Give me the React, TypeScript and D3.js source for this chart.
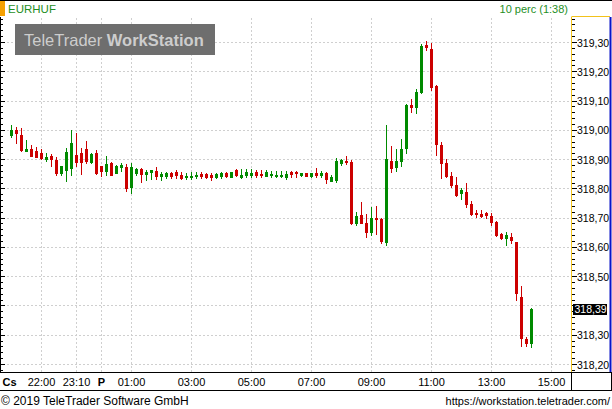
import React from "react";
import * as d3 from "d3";

const symbol = "EURHUF";
const periodLabel = "10 perc (1:38)";
const copyright = "© 2019 TeleTrader Software GmbH";
const siteUrl = "https://workstation.teletrader.com/";
const watermarkA = "TeleTrader ";
const watermarkB = "WorkStation";

// 10-minute bars, first bar at 21:00 of the previous day (minutes relative to midnight)
const firstBarMinute = -180;
const barMinutes = 10;

const opens = [
  318.984, 319.001, 318.984, 318.929, 318.936, 318.929, 318.922, 318.902, 318.912, 318.899,
  318.854, 318.864, 318.871, 318.916, 318.922, 318.936, 318.892, 318.922, 318.878, 318.861,
  318.888, 318.854, 318.875, 318.875, 318.806, 318.854, 318.868, 318.851, 318.857, 318.861,
  318.844, 318.844, 318.854, 318.857, 318.847, 318.840, 318.840, 318.844, 318.851, 318.851,
  318.847, 318.840, 318.844, 318.854, 318.840, 318.864, 318.840, 318.847, 318.847, 318.857,
  318.851, 318.844, 318.847, 318.844, 318.844, 318.840, 318.857, 318.857, 318.847, 318.854,
  318.844, 318.854, 318.847, 318.854, 318.827, 318.830, 318.888, 318.895, 318.892, 318.683,
  318.711, 318.683, 318.652, 318.700, 318.697, 318.618, 318.895, 318.875, 318.895, 318.940,
  319.086, 319.080, 319.131, 319.291, 319.278, 319.151, 318.950, 318.888, 318.844, 318.813,
  318.786, 318.789, 318.748, 318.717, 318.714, 318.717, 318.707, 318.688, 318.646, 318.632,
  318.635, 318.618, 318.430, 318.287, 318.273,
];
const highs = [
  319.018, 319.011, 319.008, 318.967, 318.950, 318.943, 318.936, 318.922, 318.919, 318.909,
  318.878, 318.940, 319.001, 318.991, 318.940, 318.963, 318.922, 318.933, 318.878, 318.912,
  318.892, 318.881, 318.888, 318.885, 318.888, 318.871, 318.871, 318.864, 318.864, 318.875,
  318.857, 318.857, 318.857, 318.864, 318.857, 318.854, 318.857, 318.857, 318.857, 318.854,
  318.854, 318.854, 318.857, 318.857, 318.857, 318.868, 318.868, 318.868, 318.868, 318.864,
  318.864, 318.864, 318.861, 318.861, 318.861, 318.861, 318.861, 318.861, 318.854, 318.854,
  318.854, 318.871, 318.861, 318.857, 318.847, 318.905, 318.902, 318.912, 318.899, 318.721,
  318.755, 318.714, 318.738, 318.741, 318.700, 319.018, 318.946, 318.936, 318.970, 319.090,
  319.107, 319.141, 319.295, 319.305, 319.298, 319.155, 318.960, 318.902, 318.857, 318.840,
  318.803, 318.820, 318.758, 318.728, 318.728, 318.721, 318.717, 318.690, 318.649, 318.652,
  318.649, 318.618, 318.468, 318.294, 318.393,
];
const lows = [
  318.977, 318.957, 318.929, 318.929, 318.912, 318.909, 318.902, 318.895, 318.878, 318.847,
  318.847, 318.827, 318.847, 318.878, 318.851, 318.888, 318.888, 318.851, 318.844, 318.847,
  318.847, 318.854, 318.861, 318.793, 318.786, 318.847, 318.823, 318.830, 318.834, 318.834,
  318.830, 318.837, 318.837, 318.837, 318.834, 318.834, 318.834, 318.837, 318.837, 318.837,
  318.830, 318.837, 318.837, 318.840, 318.840, 318.844, 318.837, 318.840, 318.840, 318.840,
  318.840, 318.844, 318.840, 318.840, 318.840, 318.834, 318.840, 318.840, 318.844, 318.844,
  318.840, 318.840, 318.840, 318.820, 318.827, 318.823, 318.881, 318.885, 318.680, 318.676,
  318.683, 318.635, 318.642, 318.646, 318.615, 318.608, 318.857, 318.861, 318.878, 318.922,
  319.063, 319.059, 319.127, 319.274, 319.138, 318.916, 318.837, 318.840, 318.806, 318.776,
  318.765, 318.738, 318.711, 318.704, 318.704, 318.700, 318.676, 318.639, 318.629, 318.608,
  318.615, 318.420, 318.263, 318.263, 318.260,
];
const closes = [
  319.001, 318.991, 318.933, 318.936, 318.912, 318.909, 318.905, 318.909, 318.902, 318.854,
  318.878, 318.926, 318.957, 318.892, 318.892, 318.895, 318.919, 318.854, 318.861, 318.885,
  318.847, 318.878, 318.881, 318.803, 318.875, 318.868, 318.851, 318.857, 318.864, 318.844,
  318.851, 318.854, 318.844, 318.847, 318.837, 318.844, 318.844, 318.847, 318.844, 318.840,
  318.840, 318.851, 318.854, 318.844, 318.857, 318.847, 318.847, 318.857, 318.854, 318.847,
  318.847, 318.857, 318.851, 318.847, 318.847, 318.851, 318.851, 318.854, 318.854, 318.844,
  318.854, 318.847, 318.854, 318.834, 318.840, 318.895, 318.899, 318.892, 318.683, 318.707,
  318.683, 318.652, 318.700, 318.697, 318.622, 318.902, 318.871, 318.895, 318.936, 319.086,
  319.080, 319.131, 319.288, 319.285, 319.148, 318.953, 318.888, 318.844, 318.813, 318.779,
  318.796, 318.748, 318.714, 318.714, 318.707, 318.711, 318.688, 318.642, 318.632, 318.642,
  318.625, 318.444, 318.290, 318.273, 318.389,
];

const yTicks = [318.2, 318.3, 318.4, 318.5, 318.6, 318.7, 318.8, 318.9, 319.0, 319.1, 319.2, 319.3];
const xTickLabels = ["Cs", "22:00", "23:10", "P", "01:00", "03:00", "05:00", "07:00", "09:00", "11:00", "13:00", "15:00"];
const xTickMinutes = [-184, -120, -50, 0, 60, 180, 300, 420, 540, 660, 780, 900];
const xTickBold = [true, false, false, true, false, false, false, false, false, false, false, false];
const xGridMinutes = [-120, -50, 0, 60, 180, 300, 420, 540, 660, 780, 900];
const lastPrice = 318.39;

const FONT = "'Liberation Sans', Arial, sans-serif";
const GREEN = "#008a00";
const RED = "#cc0000";
const TEXT_GREEN = "#1f8f1f";
const YELLOW = "#f2c21b";
const BLUE = "#0a14c8";

export default function App() {
  const W = 612;
  const H = 409;
  const plotTop = 17;
  const plotBottom = 372;
  const axisX = 571.5;

  const x = d3.scaleLinear().domain([-120, 900]).range([41.5, 551.5]);
  const y = d3.scaleLinear().domain([318.2, 319.3]).range([364.5, 42.5]);
  const crisp = (v: number) => Math.round(v - 0.5) + 0.5;
  const fmt = (v: number) => d3.format(".2f")(v).replace(".", ",");

  const minorTicks = d3.range(Math.ceil(318.17 / 0.02), Math.floor(319.39 / 0.02) + 1).map((k) => k * 0.02);
  const visibleMinor = minorTicks.filter((v) => y(v) > plotTop + 1 && y(v) < plotBottom - 1);

  const bars = opens.map((o, i) => ({
    t: firstBarMinute + i * barMinutes,
    o,
    h: highs[i],
    l: lows[i],
    c: closes[i],
  }));

  const lastY = y(lastPrice);
  const labelTicks = yTicks.filter((v) => Math.abs(y(v) - lastY) > 9);

  return (
    <svg
      width={W}
      height={H}
      viewBox={`0 0 ${W} ${H}`}
      style={{ position: "absolute", left: 0, top: 0, background: "#fff" }}
      fontFamily={FONT}
    >
      <rect x={0} y={0} width={W} height={H} fill="#fff" />
      {/* top border */}
      <line x1={0} x2={W} y1={0.5} y2={0.5} stroke="#000" />
      {/* header */}
      <rect x={0} y={1} width={5} height={15} fill="#f5a000" />
      <text x={8} y={13} fontSize={11.5} fill={TEXT_GREEN}>{symbol}</text>
      <text x={568} y={12.5} fontSize={11} fill={TEXT_GREEN} textAnchor="end">{periodLabel}</text>

      {/* grid */}
      <g stroke="#cfcfcf" strokeDasharray="2,2" strokeWidth={1}>
        {yTicks.map((v) => (
          <line key={"hg" + v} x1={3} x2={axisX - 1} y1={crisp(y(v))} y2={crisp(y(v))} />
        ))}
        {xGridMinutes.map((m) => (
          <line key={"vg" + m} x1={x(m)} x2={x(m)} y1={plotTop + 1} y2={plotBottom} />
        ))}
      </g>

      {/* watermark */}
      <rect x={15} y={24} width={200} height={31} fill="#6e6e6e" />
      <text x={24} y={46} fontSize={16.5} fill="#cdcdcd">
        <tspan>{watermarkA}</tspan>
        <tspan fontWeight="bold">{watermarkB}</tspan>
      </text>

      {/* candles */}
      <g>
        {bars.map((b, i) => {
          const cx = x(b.t);
          const up = b.c >= b.o;
          const col = up ? GREEN : RED;
          const top = Math.round(y(Math.max(b.o, b.c)));
          const bot = Math.round(y(Math.min(b.o, b.c)));
          return (
            <g key={i}>
              <line x1={cx} x2={cx} y1={Math.round(y(b.h))} y2={Math.round(y(b.l)) + 1} stroke={col} strokeWidth={1} />
              <rect x={cx - 1.5} y={top} width={3} height={Math.max(1, bot - top + 1)} fill={col} />
            </g>
          );
        })}
      </g>

      {/* left axis */}
      <line x1={0.5} x2={0.5} y1={plotTop} y2={plotBottom} stroke="#000" />
      {visibleMinor.map((v) => (
        <line key={"lm" + v} x1={0} x2={3} y1={crisp(y(v))} y2={crisp(y(v))} stroke="#000" />
      ))}
      {yTicks.map((v) => (
        <line key={"lM" + v} x1={0} x2={5} y1={crisp(y(v))} y2={crisp(y(v))} stroke="#000" />
      ))}

      {/* right axis */}
      <line x1={axisX} x2={axisX} y1={plotTop} y2={plotBottom} stroke={YELLOW} />
      <line x1={axisX} x2={610} y1={16.5} y2={16.5} stroke={YELLOW} />
      <line x1={610.5} x2={610.5} y1={plotTop} y2={plotBottom} stroke={BLUE} strokeWidth={2} />
      {visibleMinor.map((v) => (
        <line key={"rm" + v} x1={572} x2={575} y1={crisp(y(v))} y2={crisp(y(v))} stroke="#000" />
      ))}
      {yTicks.map((v) => (
        <line key={"rM" + v} x1={572} x2={577} y1={crisp(y(v))} y2={crisp(y(v))} stroke="#000" />
      ))}
      {labelTicks.map((v) => (
        <text key={"rl" + v} x={577} y={y(v) + 4} fontSize={10.5} fill="#000">{fmt(v)}</text>
      ))}
      <rect x={573} y={Math.round(lastY) - 5} width={34} height={11} fill="#000" />
      <text x={574.5} y={lastY + 4} fontSize={10.5} fill="#fff">{fmt(lastPrice)}</text>

      {/* x axis band */}
      <line x1={0} x2={W} y1={372.5} y2={372.5} stroke="#000" />
      <line x1={0} x2={W} y1={390.5} y2={390.5} stroke="#000" />
      <line x1={axisX} x2={axisX} y1={372} y2={391} stroke="#000" />
      <line x1={611.5} x2={611.5} y1={372} y2={391} stroke="#000" />
      {xTickLabels.map((lab, i) => (
        <text
          key={"xl" + i}
          x={x(xTickMinutes[i])}
          y={386}
          fontSize={11}
          fontWeight={xTickBold[i] ? "bold" : "normal"}
          textAnchor="middle"
          fill="#000"
        >
          {lab}
        </text>
      ))}

      {/* footer */}
      <text x={1} y={405} fontSize={12} fill="#000">{copyright}</text>
      <text x={610} y={405} fontSize={11} fill="#000" textAnchor="end">{siteUrl}</text>
    </svg>
  );
}
